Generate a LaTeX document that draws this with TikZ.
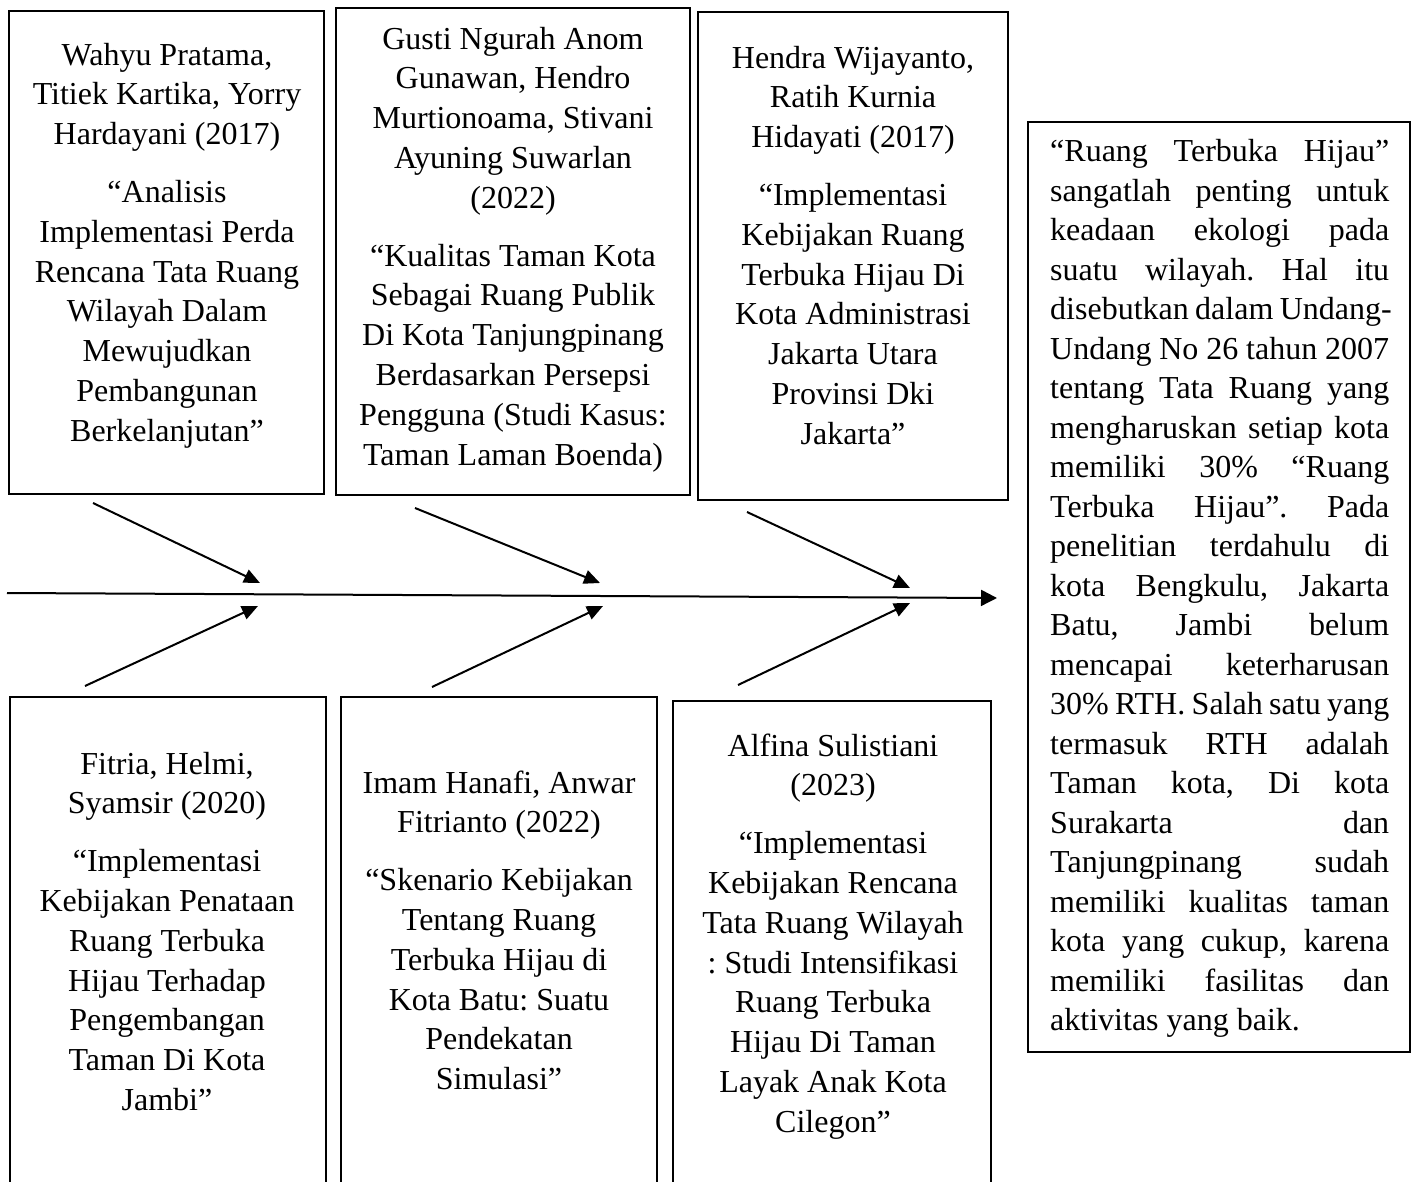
\documentclass[tikz,border=0pt]{standalone}
\usepackage{fontspec}
\setmainfont{Liberation Serif}
\usetikzlibrary{arrows.meta,fit}
\newcommand\jline[1]{\hbox to \hsize{\strut\frenchspacing\spaceskip=0.25em plus 1fil minus 0.05em\relax #1}}
\begin{document}
\frenchspacing
\begin{tikzpicture}[x=1pt,y=-1pt,
  box/.style={draw, line width=2.8pt, inner sep=0pt, rectangle},
  txt/.style={anchor=north, align=center, inner sep=0pt, font=\fontsize{32}{39.8}\selectfont\frenchspacing},
  bone/.style={line width=2pt, -{Triangle[length=16pt,width=14pt]}},
  spine/.style={line width=2pt, -{Triangle[length=16pt,width=16pt]}}]
\path[use as bounding box, fill=white] (0,0) rectangle (1416,1182);
\clip (0,0) rectangle (1416,1182);

% boxes
\node[box, fit={(9,11) (324,494)}] (b1) {};
\node[box, fit={(336,8) (690,495)}] (b2) {};
\node[box, fit={(698,12) (1008,500)}] (b3) {};
\node[box, fit={(10,697) (326,1200)}] (b4) {};
\node[box, fit={(341,697) (657,1200)}] (b5) {};
\node[box, fit={(673,701) (991,1200)}] (b6) {};
\node[box, fit={(1028,122) (1410,1052)}] (b7) {};

% texts
\node[txt] (t1) at (167,37) {\strut Wahyu Pratama,\\ Titiek Kartika, Yorry\\ Hardayani (2017)\\[18pt]
“Analisis\\ Implementasi Perda\\ Rencana Tata Ruang\\ Wilayah Dalam\\ Mewujudkan\\ Pembangunan\\ Berkelanjutan”};
\node[txt] (t2) at (513,21) {\strut Gusti Ngurah Anom\\ Gunawan, Hendro\\ Murtionoama, Stivani\\ Ayuning Suwarlan\\ (2022)\\[18pt]
“Kualitas Taman Kota\\ Sebagai Ruang Publik\\ Di Kota Tanjungpinang\\ Berdasarkan Persepsi\\ Pengguna (Studi Kasus:\\ Taman Laman Boenda)};
\node[txt] (t3) at (853,40) {\strut Hendra Wijayanto,\\ Ratih Kurnia\\ Hidayati (2017)\\[18pt]
“Implementasi\\ Kebijakan Ruang\\ Terbuka Hijau Di\\ Kota Administrasi\\ Jakarta Utara\\ Provinsi Dki\\ Jakarta”};
\node[txt] (t4) at (167,746) {\strut Fitria, Helmi,\\ Syamsir (2020)\\[18pt]
“Implementasi\\ Kebijakan Penataan\\ Ruang Terbuka\\ Hijau Terhadap\\ Pengembangan\\ Taman Di Kota\\ Jambi”};
\node[txt] (t5) at (499,765) {\strut Imam Hanafi, Anwar\\ Fitrianto (2022)\\[18pt]
“Skenario Kebijakan\\ Tentang Ruang\\ Terbuka Hijau di\\ Kota Batu: Suatu\\ Pendekatan\\ Simulasi”};
\node[txt] (t6) at (833,728) {\strut Alfina Sulistiani\\ (2023)\\[18pt]
“Implementasi\\ Kebijakan Rencana\\ Tata Ruang Wilayah\\ : Studi Intensifikasi\\ Ruang Terbuka\\ Hijau Di Taman\\ Layak Anak Kota\\ Cilegon”};
\node[anchor=north west, inner sep=0pt] (t7) at (1050,134) {\parbox[t]{339pt}{\fontsize{32}{39.5}\selectfont\frenchspacing
\jline{“Ruang Terbuka Hijau”}
\jline{sangatlah penting untuk}
\jline{keadaan ekologi pada}
\jline{suatu wilayah. Hal itu}
\jline{disebutkan dalam Undang-}
\jline{Undang No 26 tahun 2007}
\jline{tentang Tata Ruang yang}
\jline{mengharuskan setiap kota}
\jline{memiliki 30\% “Ruang}
\jline{Terbuka Hijau”. Pada}
\jline{penelitian terdahulu di}
\jline{kota Bengkulu, Jakarta}
\jline{Batu, Jambi belum}
\jline{mencapai keterharusan}
\jline{30\% RTH. Salah satu yang}
\jline{termasuk RTH adalah}
\jline{Taman kota, Di kota}
\jline{Surakarta dan}
\jline{Tanjungpinang sudah}
\jline{memiliki kualitas taman}
\jline{kota yang cukup, karena}
\jline{memiliki fasilitas dan}
\hbox{\strut aktivitas yang baik.}}};

% fishbone
\coordinate (sp0) at (7,593);
\coordinate (sp1) at (997,598);
\draw[spine] (sp0) -- (sp1);

\coordinate (u1s) at (93,503);  \coordinate (u1e) at (260,583);
\coordinate (l1s) at (85,686);  \coordinate (l1e) at (258,606);
\coordinate (u2s) at (415,508); \coordinate (u2e) at (600,583);
\coordinate (l2s) at (432,687); \coordinate (l2e) at (603,606);
\coordinate (u3s) at (747,512); \coordinate (u3e) at (910,588);
\coordinate (l3s) at (738,685); \coordinate (l3e) at (910,603);
\draw[bone] (u1s) -- (u1e);
\draw[bone] (l1s) -- (l1e);
\draw[bone] (u2s) -- (u2e);
\draw[bone] (l2s) -- (l2e);
\draw[bone] (u3s) -- (u3e);
\draw[bone] (l3s) -- (l3e);
\end{tikzpicture}
\end{document}
